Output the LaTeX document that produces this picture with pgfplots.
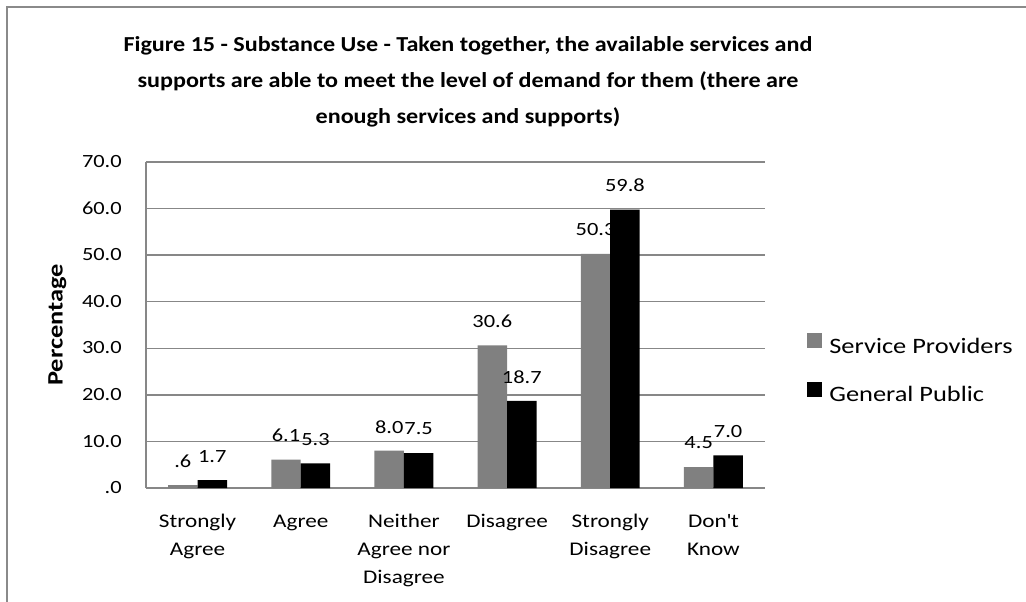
\documentclass[border=0pt]{standalone}
\usepackage{pgfplots}
\pgfplotsset{compat=1.18}
\usepackage{fontspec}
\setmainfont{Carlito}[FakeStretch=1.2]
\newfontfamily\titlefont{Carlito}[FakeStretch=1.13]
\definecolor{spc}{HTML}{808080}
\definecolor{gridc}{HTML}{878787}
\definecolor{framec}{HTML}{8A8A8A}
\pgfplotsset{sqlegend/.style={legend image code/.code={\fill[##1,draw=none] (0pt,-1.2pt) rectangle (11.25pt,10.05pt);}}}
\begin{document}
\begin{tikzpicture}
\useasboundingbox (0,0) rectangle (769.5pt,450.75pt);
\draw[framec, line width=1.5pt] (5.25pt,-2pt) -- (5.25pt,445.5pt) -- (772pt,445.5pt);
\node[font=\titlefont\bfseries\fontsize{16}{27}\selectfont, align=center] at (351pt,389.25pt)
  {Figure 15 - Substance Use - Taken together, the available services and\\
   supports are able to meet the level of demand for them (there are\\
   enough services and supports)};
\begin{axis}[
  at={(109.5pt,84.75pt)}, anchor=south west, scale only axis,
  width=464.25pt, height=244.5pt,
  /pgf/number format/assume math mode=true,
  ybar=0pt, bar width=22.1pt,
  xmin=-0.5, xmax=5.5, ymin=0, ymax=70,
  xtick={0,1,2,3,4,5},
  xticklabels={{Strongly\\Agree},{Agree},{Neither\\Agree nor\\Disagree},{Disagree},{Strongly\\Disagree},{Don\textquotesingle t\\Know}},
  ytick={0,10,20,30,40,50,60,70},
  yticklabels={.0,10.0,20.0,30.0,40.0,50.0,60.0,70.0},
  ymajorgrids, grid style={gridc, line width=1.1pt},
  axis x line*=bottom, axis y line*=left,
  axis line style={-, gridc, line width=1.1pt},
  major tick length=0pt,
  tick label style={font=\fontsize{14}{21}\selectfont},
  yticklabel style={anchor=east, inner sep=0pt, xshift=-18pt},
  typeset ticklabels with strut,
  xticklabel style={anchor=north, inner sep=0pt, yshift=-14.5pt, align=center, font=\fontsize{14.5}{21}\selectfont},
  every axis y label/.style={at={(axis description cs:-0.143,0.5)}, rotate=90, anchor=center, font=\bfseries\fontsize{16.5}{20}\selectfont},
  ylabel={Percentage},
  clip=false,
  nodes near coords={\pgfmathprintnumber[fixed, fixed zerofill, precision=1, skip 0.]{\pgfplotspointmeta}},
  every node near coord/.append style={anchor=center, yshift=18pt, font=\fontsize{14}{17}\selectfont, text=black},
  legend style={draw=none, fill=none, at={(axis description cs:1.068,0.3665)}, anchor=west,
    inner sep=0pt, row sep=20pt, font=\fontsize{16.5}{20}\selectfont, nodes={inner sep=0pt, inner xsep=5.25pt}},
  legend cell align=left,
]
\addplot[fill=spc, draw=none, sqlegend] coordinates {(0,0.6) (1,6.1) (2,8.0) (3,30.6) (4,50.3) (5,4.5)};
\addplot[fill=black, draw=none, sqlegend] coordinates {(0,1.7) (1,5.3) (2,7.5) (3,18.7) (4,59.8) (5,7.0)};
\legend{Service Providers, General Public}
\end{axis}
\end{tikzpicture}
\end{document}
